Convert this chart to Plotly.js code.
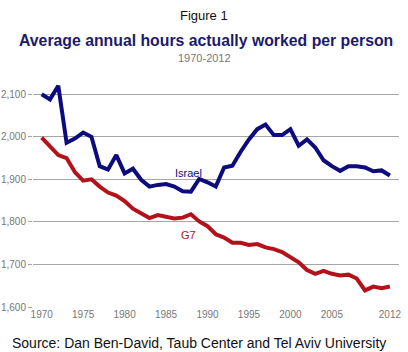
<!DOCTYPE html>
<html>
<head>
<meta charset="utf-8">
<script src="https://cdn.plot.ly/plotly-3.0.1.min.js"></script>
<style>
html,body{margin:0;padding:0;background:#fff;}
#chart{width:408px;height:352px;}
</style>
</head>
<body>
<div id="chart"></div>
<script>
var years = [1970,1971,1972,1973,1974,1975,1976,1977,1978,1979,1980,1981,1982,1983,1984,1985,1986,1987,1988,1989,1990,1991,1992,1993,1994,1995,1996,1997,1998,1999,2000,2001,2002,2003,2004,2005,2006,2007,2008,2009,2010,2011,2012];
var israel = [2100,2088,2120,1986,1996,2010,2000,1931,1923,1957,1914,1925,1899,1883,1887,1889,1883,1872,1871,1901,1893,1883,1928,1932,1965,1994,2018,2029,2004,2004,2018,1979,1994,1975,1945,1931,1920,1931,1931,1928,1919,1921,1909];
var g7 = [1998,1976,1957,1950,1917,1897,1900,1883,1869,1862,1849,1831,1820,1809,1816,1812,1808,1810,1818,1801,1790,1771,1763,1751,1751,1746,1748,1740,1736,1729,1717,1705,1687,1678,1685,1678,1674,1676,1667,1639,1648,1644,1648];
var xTicks = [1970,1975,1980,1985,1990,1995,2000,2005,2012];
var yTicks = [1600,1700,1800,1900,2000,2100];
var yTickText = ['1,600','1,700','1,800','1,900','2,000','2,100'];

var font = 'Liberation Sans, Arial, sans-serif';
var traces = [
  {x: years, y: g7, type: 'scatter', mode: 'lines', name: 'G7',
   line: {color: '#b3121b', width: 4}},
  {x: years, y: israel, type: 'scatter', mode: 'lines', name: 'Israel',
   line: {color: '#0c0c7e', width: 4}}
];
var layout = {
  width: 408, height: 352,
  margin: {l: 33, r: 9, t: 73, b: 45},
  paper_bgcolor: '#fff', plot_bgcolor: '#fff',
  showlegend: false,
  font: {family: font, color: '#777', size: 10},
  xaxis: {range: [1968.95, 2013.1], tickvals: xTicks, ticktext: xTicks.map(String),
    showgrid: false, zeroline: false, showline: false, ticks: '',
    tickfont: {size: 10, color: '#777'}, fixedrange: true},
  yaxis: {range: [1600, 2150], tickvals: yTicks, ticktext: yTickText,
    showgrid: true, gridcolor: '#a6a6a6', gridwidth: 1, zeroline: false, showline: false,
    ticks: 'outside', ticklen: 4, tickcolor: '#a6a6a6',
    tickfont: {size: 10, color: '#777'}, fixedrange: true},
  annotations: [
    {text: 'Figure 1', showarrow: false, font: {size: 13, color: '#111', family: font}},
    {text: '<b>Average annual hours actually worked per person</b>', showarrow: false,
     font: {size: 15.8, color: '#1b1b6b', family: font}},
    {text: '1970-2012', showarrow: false, font: {size: 11, color: '#777', family: font}},
    {text: 'Source: Dan Ben-David, Taub Center and Tel Aviv University', showarrow: false,
     font: {size: 14, color: '#111', family: font}},
    {xref: 'x', yref: 'y', x: 1987.7, y: 1914, text: 'Israel', showarrow: false,
     font: {size: 11, color: '#0c0c7e', family: font}},
    {xref: 'x', yref: 'y', x: 1987.7, y: 1770, text: 'G7', showarrow: false,
     font: {size: 11, color: '#a5141b', family: font}}
  ]
};
// position page-level texts in pixel-based paper coordinates
function px(xp, yp, a, xanchor){
  var W = 408 - 33 - 9, H = 352 - 73 - 45;
  a.xref = 'paper'; a.yref = 'paper';
  a.x = (xp - 33) / W; a.y = (352 - 45 - yp) / H;
  a.xanchor = xanchor; a.yanchor = 'middle';
  return a;
}
px(204, 15, layout.annotations[0], 'center');
px(206, 40, layout.annotations[1], 'center');
px(204, 58, layout.annotations[2], 'center');
px(10, 343, layout.annotations[3], 'left');
Plotly.newPlot('chart', traces, layout, {displayModeBar: false, staticPlot: true});
</script>
</body>
</html>
